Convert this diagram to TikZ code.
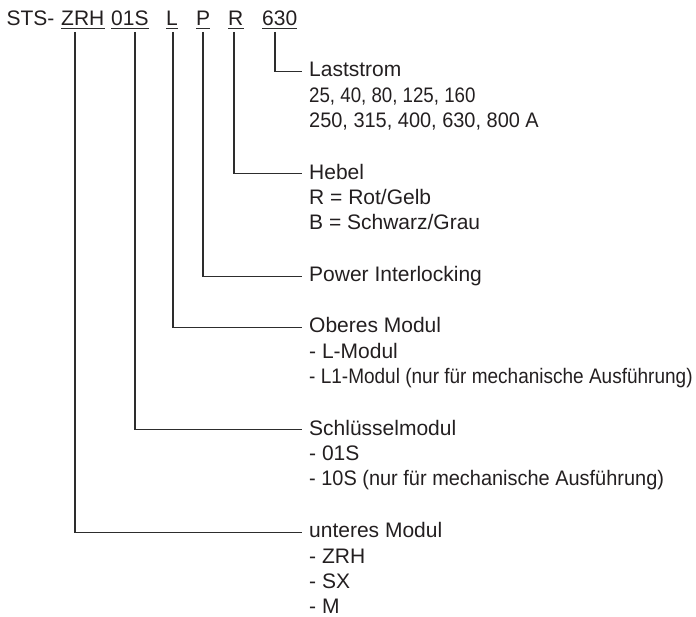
\documentclass[tikz,border=0pt]{standalone}
\usepackage{fontspec}
\setmainfont{Liberation Sans}
\usepackage{graphicx}
\definecolor{ink}{RGB}{35,31,32}
\definecolor{rulecol}{RGB}{45,45,45}
\newcommand\lineitem[1]{\hbox{#1}}
\begin{document}
\begin{tikzpicture}[x=1pt,y=-1pt,
  code/.style={anchor=base west, inner sep=0pt, text=ink, font=\fontsize{21}{25.2}\selectfont},
  desc/.style={anchor=base west, inner xsep=7pt, inner ysep=0pt, text=ink, font=\fontsize{21}{25.2}\selectfont},
  conn/.style={draw=rulecol, line width=1.1pt},
  uline/.style={draw=rulecol, line width=1pt}]
\useasboundingbox (0,0) rectangle (696,617);
% code line
\node[code] (sts) at (6.3,26) {STS-};
\node[code] (zrh) at (61,26) {ZRH};
\node[code] (s01) at (111,26) {01S};
\node[code] (cl)  at (166,26) {L};
\node[code] (cp)  at (196,26) {P};
\node[code] (cr)  at (228,26) {R};
\node[code] (c630) at (262,26) {630};
\foreach \n in {zrh,s01,cl,cp,cr,c630}
  \draw[uline] ([yshift=-3pt]\n.base west) -- ([yshift=-3pt]\n.base east);
% connector starts
\coordinate (vzrh) at (75,32);
\coordinate (vs01) at (135,32);
\coordinate (vl)   at (173,32);
\coordinate (vp)   at (203,32);
\coordinate (vr)   at (234,32);
\coordinate (v630) at (275,32);
% descriptions
\node[desc] (d630) at (302,77) {\vtop{\lineitem{Laststrom}\lineitem{\scalebox{0.89}[1]{25, 40, 80, 125, 160}}\lineitem{\scalebox{0.95}[1]{250, 315, 400, 630, 800 A}}}};
\node[desc] (dr) at (302,179.4) {\vtop{\lineitem{Hebel}\lineitem{R = Rot/Gelb}\lineitem{B = Schwarz/Grau}}};
\node[desc] (dp) at (302,281.8) {\vtop{\lineitem{Power Interlocking}}};
\node[desc] (dl) at (302,333) {\vtop{\lineitem{Oberes Modul}\lineitem{- L-Modul}\lineitem{\scalebox{0.905}[1]{- L1-Modul (nur für mechanische Ausführung)}}}};
\node[desc] (ds01) at (302,435.4) {\vtop{\lineitem{Schlüsselmodul}\lineitem{- 01S}\lineitem{\scalebox{0.95}[1]{- 10S (nur für mechanische Ausführung)}}}};
\node[desc] (dzrh) at (302,537.8) {\vtop{\lineitem{unteres Modul}\lineitem{- ZRH}\lineitem{- SX}\lineitem{- M}}};
% connectors
\draw[conn] (v630) |- ([yshift=5.5pt]d630.base west);
\draw[conn] (vr) |- ([yshift=5.5pt]dr.base west);
\draw[conn] (vp) |- ([yshift=5.5pt]dp.base west);
\draw[conn] (vl) |- ([yshift=5.5pt]dl.base west);
\draw[conn] (vs01) |- ([yshift=5.5pt]ds01.base west);
\draw[conn] (vzrh) |- ([yshift=5.5pt]dzrh.base west);
\end{tikzpicture}
\end{document}
